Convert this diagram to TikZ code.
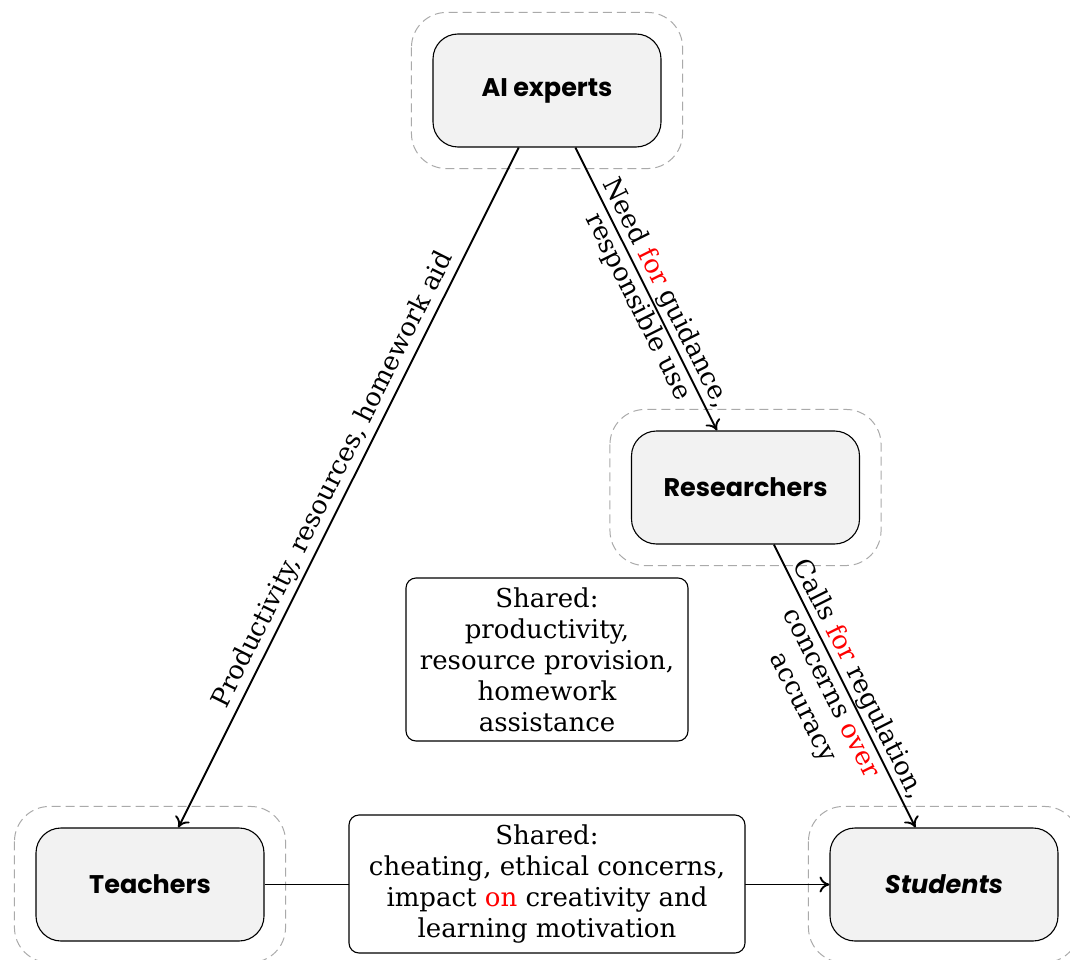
\documentclass[tikz,border=0pt]{standalone}
\usepackage{fontspec}
\setmainfont{DejaVu Serif}
\newfontfamily\headfont{Poppins}
\usetikzlibrary{arrows.meta}
\definecolor{actorfill}{HTML}{F2F2F2}
\definecolor{halogray}{HTML}{AAAAAA}
\begin{document}
\begin{tikzpicture}[x=1pt,y=-1pt,
  actor/.style={draw=black, line width=1.1pt, fill=actorfill, rounded corners=25pt,
    minimum width=228pt, minimum height=113pt, inner sep=0pt,
    font=\headfont\bfseries\fontsize{25.5}{30}\selectfont},
  halo/.style={draw=halogray, dash pattern=on 9pt off 5pt, line width=1pt, rounded corners=35pt},
  sharedbox/.style={draw=black, fill=white, rounded corners=10pt, align=center,
    line width=1.1pt, inner sep=0pt, font=\fontsize{26}{31}\selectfont},
  lbl/.style={font=\fontsize{26}{31}\selectfont, align=center, inner sep=3pt},
  link/.style={line width=1.9pt, -{To[length=10pt,width=16pt]}}
]
\useasboundingbox (0,0) rectangle (1070,960);
\clip (0,0) rectangle (1070,960);

\node[actor] (ai) at (547,90.5) {AI experts};
\node[actor] (res) at (745.5,487.5) {Researchers};
\node[actor] (teach) at (150,884.5) {Teachers};
\node[actor] (stud) at (944,884.5) {\itshape Students};

\foreach \n in {ai,res,teach,stud}{
  \draw[halo] ([shift={(-21pt,21pt)}]\n.north west) rectangle ([shift={(21pt,-21pt)}]\n.south east);
}

\draw[link] (ai) -- node[lbl, sloped, above] {Productivity, resources, homework aid} (teach);
\draw[link] (ai) -- node[lbl, sloped, pos=0.54] {Need \textcolor{red}{for} guidance,\\ responsible use} (res);
\draw[link] (res) -- node[lbl, sloped, yshift=-16pt] {Calls \textcolor{red}{for} regulation,\\ concerns \textcolor{red}{over}\\ accuracy} (stud);

\draw[link] (teach) -- (stud);
\node[sharedbox, minimum width=396pt, minimum height=138pt] (sh2) at (547,884)
  {Shared:\\ cheating, ethical concerns,\\ impact \textcolor{red}{on} creativity and\\ learning motivation};

\node[sharedbox, minimum width=282pt, minimum height=163pt] (sh1) at (547,659.5)
  {Shared:\\ productivity,\\ resource provision,\\ homework\\ assistance};
\end{tikzpicture}
\end{document}
